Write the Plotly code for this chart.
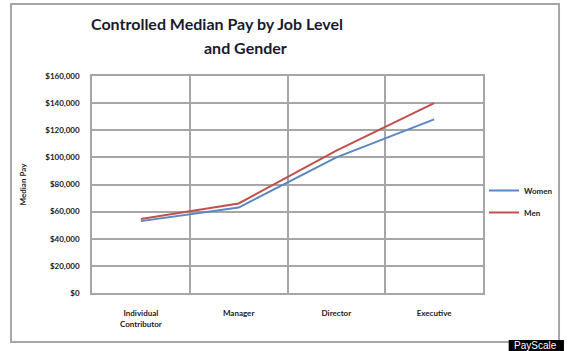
import plotly.graph_objects as go

categories = ["Individual<br>Contributor", "Manager", "Director", "Executive"]
women = [53000, 63000, 100000, 128000]
men = [54500, 66000, 105000, 140000]
y_ticks = [0, 20000, 40000, 60000, 80000, 100000, 120000, 140000, 160000]
y_tick_labels = ["$" + format(v, ",") for v in y_ticks]

L, R, T, B = 92, 488, 76, 293
W, H = 570, 351

def px(x):
    return (x - L) / (R - L)

def py(y):
    return (B - y) / (B - T)

fig = go.Figure()
fig.add_trace(go.Scatter(x=categories, y=women, mode="lines", name="Women", legendgroup="w",
                         line=dict(color="#5b87c0", width=2)))
fig.add_trace(go.Scatter(x=categories, y=men, mode="lines", name="Men", legendgroup="m",
                         line=dict(color="#c0504d", width=2)))

grid = "#a6a6a6"
tickfont = dict(family="Lato", size=8, color="#1a1a1a", weight="bold")

fig.update_layout(
    width=W, height=H,
    margin=dict(l=L, r=W - R, t=T, b=H - B),
    paper_bgcolor="white", plot_bgcolor="white",
    showlegend=True,
    legend=dict(x=px(489), y=py(176), xanchor="left", yanchor="top",
                font=dict(family="Lato", size=8, color="#1a1a1a", weight="bold"),
                bgcolor="rgba(0,0,0,0)", itemwidth=30, tracegroupgap=3),
    xaxis=dict(type="category", range=[-0.5, 3.5], tickson="boundaries",
               showgrid=True, gridcolor=grid, gridwidth=1.5,
               showline=True, linecolor=grid, linewidth=1.5, mirror=True,
               ticks="", ticklen=0, ticklabelstandoff=12, tickfont=tickfont, fixedrange=True),
    yaxis=dict(range=[0, 160000], tickvals=y_ticks, ticktext=y_tick_labels,
               showgrid=True, gridcolor=grid, gridwidth=1.5, zeroline=False,
               showline=True, linecolor=grid, linewidth=1.5, mirror=True,
               ticks="", ticklabelstandoff=9, tickfont=tickfont,
               title=dict(text="<b>Median Pay</b>", font=dict(family="Lato", size=8, color="#1a1a1a"),
                          standoff=17)),
)

# Outer chart border
fig.add_shape(type="rect", xref="paper", yref="paper",
              x0=px(10), x1=px(565), y0=py(342), y1=py(4),
              line=dict(color="#a6a6a6", width=2), layer="below")

# Title lines
fig.add_annotation(text="<b>Controlled Median Pay by Job Level</b>", xref="paper", yref="paper",
                   x=px(219), y=py(24), xanchor="center", yanchor="middle", showarrow=False,
                   font=dict(family="Lato", size=16, color="#1a1a2e"))
fig.add_annotation(text="<b>and Gender</b>", xref="paper", yref="paper",
                   x=px(247), y=py(47), xanchor="center", yanchor="middle", showarrow=False,
                   font=dict(family="Lato", size=16, color="#1a1a2e"))

# PayScale logo
fig.add_shape(type="rect", xref="paper", yref="paper",
              x0=px(514), x1=px(570), y0=py(351), y1=py(340),
              fillcolor="black", line=dict(width=0))
fig.add_annotation(text="PayScale", xref="paper", yref="paper",
                   x=px(541), y=py(345.5), xanchor="center", yanchor="middle", showarrow=False,
                   font=dict(family="Liberation Sans", size=10, color="white"))

fig.write_html("out.html")
